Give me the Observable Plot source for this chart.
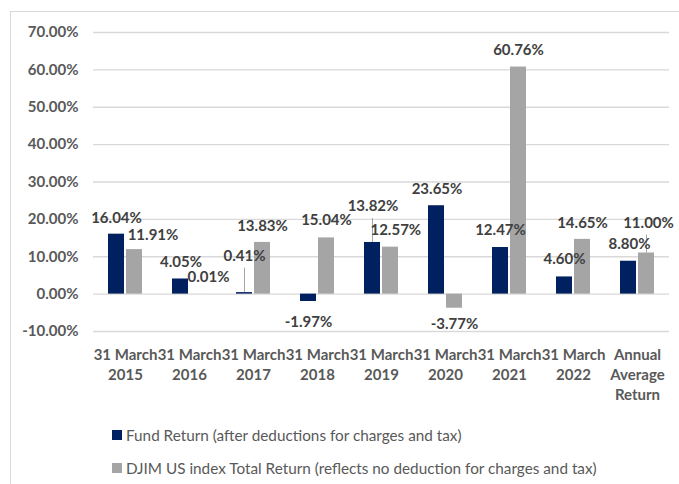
<!DOCTYPE html>
<html>
<head>
<meta charset="utf-8">
<script src="https://cdn.jsdelivr.net/npm/d3@7"></script>
<script src="https://cdn.jsdelivr.net/npm/@observablehq/plot@0.6"></script>
<style>
  html, body { margin: 0; padding: 0; background: #fff; }
  body { width: 679px; height: 484px; overflow: hidden; position: relative; font-family: Lato, "Liberation Sans", sans-serif; }
  #frame { position: absolute; left: 10px; top: 11px; width: 720px; height: 520px; border: 1px solid #D9D9D9; box-sizing: border-box; pointer-events: none; }
  #chart { position: relative; }
  #chart svg { display: block; }
  .legend { padding-left: 112px; margin-top: 15px; color: #595959; font-size: 15.3px; }
  .legend .item { display: flex; align-items: center; height: 20px; line-height: 20px; margin-bottom: 12.6px; white-space: nowrap; }
  .legend .sw { width: 10px; height: 10px; margin-right: 4px; flex: none; }
</style>
</head>
<body>
<div id="frame"></div>
<div id="chart"></div>
<script>
const categories = ["31 March\n2015", "31 March\n2016", "31 March\n2017", "31 March\n2018", "31 March\n2019", "31 March\n2020", "31 March\n2021", "31 March\n2022", "Annual\nAverage\nReturn"];
const seriesNames = ["Fund Return (after deductions for charges and tax)", "DJIM US index Total Return (reflects no deduction for charges and tax)"];
const fundReturn = [16.04, 4.05, 0.41, -1.97, 13.82, 23.65, 12.47, 4.60, 8.80];
const indexReturn = [11.91, 0.01, 13.83, 15.04, 12.57, -3.77, 60.76, 14.65, 11.00];
const yTicks = [-10, 0, 10, 20, 30, 40, 50, 60, 70];
const seriesColors = ["#002060", "#A5A5A5"];

// label placement nudges in pixels [dx, dy] (as Excel laid them out)
const fundLabelNudge = [[0, -16], [0.5, -17], [0, -36.5], [0, 21], [0.5, -36], [0.5, -17], [0, -17.5], [0, -17.5], [1, -17]];
const indexLabelNudge = [[18.5, -14], [10, -17.3], [0, -16], [0, -17.5], [5.3, -16.7], [0, 16.2], [0, -16.5], [0, -16.5], [2, -30]];

const W = 679, H = 410, mT = 32, mB = 79, mL = 91, mR = 9;
const yDomain = [-10, 70];
const pxPerUnit = (H - mT - mB) / (yDomain[1] - yDomain[0]);

const rows = [];
categories.forEach((c, i) => {
  rows.push({cat: c, series: seriesNames[0], value: fundReturn[i], nudge: fundLabelNudge[i]});
  rows.push({cat: c, series: seriesNames[1], value: indexReturn[i], nudge: indexLabelNudge[i]});
});

const labelMarks = rows.map(r => Plot.text([r], {
  fx: "cat", x: "series", y: "value",
  text: d => d.value.toFixed(2) + "%",
  dx: r.nudge[0], dy: r.nudge[1],
  fontSize: 15, fontWeight: "bold", fill: "#404040"
}));

const leaderRows = rows.filter(r => r.nudge[1] < -25).map(r => ({
  cat: r.cat, series: r.series,
  y1: r.value, y2: r.value + (-r.nudge[1] - 12) / pxPerUnit
}));

const chart = Plot.plot({
  width: W, height: H,
  marginTop: mT, marginBottom: mB, marginLeft: mL, marginRight: mR,
  style: {fontFamily: "Lato, 'Liberation Sans', sans-serif", background: "transparent", overflow: "visible"},
  fx: {domain: categories, padding: 0, label: null},
  x: {domain: seriesNames, paddingInner: 0.135, paddingOuter: 0.805, axis: null},
  y: {domain: yDomain, label: null},
  color: {domain: seriesNames, range: seriesColors},
  marks: [
    Plot.gridY(yTicks, {stroke: "#D9D9D9", strokeOpacity: 1, strokeWidth: 1.3}),
    Plot.axisY(yTicks, {tickSize: 0, tickPadding: 15, tickFormat: d => d.toFixed(2) + "%", fontSize: 15, fontWeight: "bold", fill: "#595959", label: null}),
    Plot.axisFx({anchor: "bottom", tickSize: 0, tickPadding: 14.5, fontSize: 15, fontWeight: "bold", fill: "#595959", lineHeight: 1.33, label: null}),
    Plot.barY(rows, {fx: "cat", x: "series", y: "value", fill: "series"}),
    Plot.ruleX(leaderRows, {fx: "cat", x: "series", y1: "y1", y2: "y2", stroke: "#A6A6A6", strokeWidth: 1}),
    ...labelMarks
  ]
});
document.getElementById("chart").appendChild(chart);

const legend = document.createElement("div");
legend.className = "legend";
seriesNames.forEach((name, i) => {
  const item = document.createElement("div");
  item.className = "item";
  const sw = document.createElement("span");
  sw.className = "sw";
  sw.style.background = seriesColors[i];
  const t = document.createElement("span");
  t.textContent = name;
  item.appendChild(sw);
  item.appendChild(t);
  legend.appendChild(item);
});
document.getElementById("chart").appendChild(legend);
</script>
</body>
</html>
